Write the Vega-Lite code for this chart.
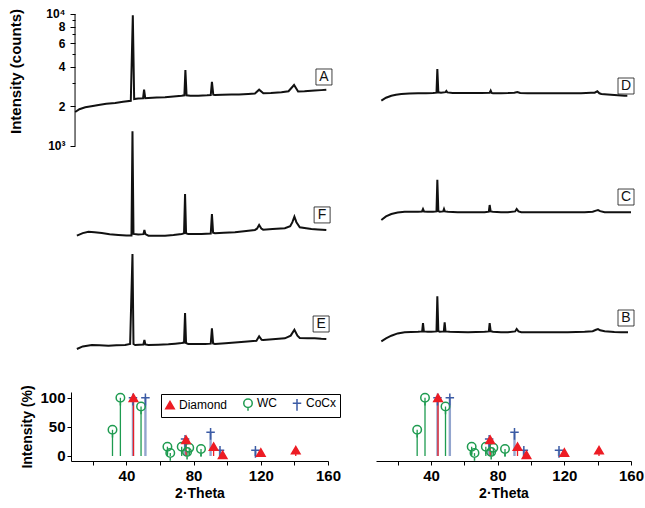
{
"$schema": "https://vega.github.io/schema/vega-lite/v6.json",
"padding": {"left": 8, "top": 7, "right": 5, "bottom": 5},
"bounds": "flush",
"columns": 2,
"spacing": {"row": 28, "column": 48},
"resolve": {"scale": {"stroke": "independent", "fill": "independent", "shape": "independent", "color": "independent"}, "legend": {"stroke": "independent", "fill": "independent", "shape": "independent", "color": "independent"}},
"config": {"font": "Liberation Sans", "view": {"stroke": null}, "axis": {"domainColor": "#000", "tickColor": "#000", "labelColor": "#000", "titleColor": "#000", "grid": false, "labelOverlap": false, "labelFlush": false}},
"datasets": {
"spectra": [
{"s":"A","t":9.5,"c":1810},{"s":"A","t":12,"c":1900},{"s":"A","t":15.5,"c":1963},{"s":"A","t":20,"c":2010},{"s":"A","t":23.4,"c":2047},{"s":"A","t":28,"c":2090},{"s":"A","t":33.3,"c":2118},{"s":"A","t":38,"c":2160},{"s":"A","t":42.6,"c":2200},{"s":"A","t":43.8,"c":9800},{"s":"A","t":44.6,"c":2270},{"s":"A","t":47,"c":2290},{"s":"A","t":49.9,"c":2300},{"s":"A","t":50.5,"c":2670},{"s":"A","t":51.2,"c":2300},{"s":"A","t":53,"c":2312},{"s":"A","t":58,"c":2330},{"s":"A","t":63,"c":2340},{"s":"A","t":68,"c":2370},{"s":"A","t":72.9,"c":2405},{"s":"A","t":74.5,"c":2420},{"s":"A","t":75.1,"c":3767},{"s":"A","t":75.8,"c":2420},{"s":"A","t":78,"c":2400},{"s":"A","t":82.8,"c":2405},{"s":"A","t":88,"c":2420},{"s":"A","t":90.2,"c":2430},{"s":"A","t":90.9,"c":3068},{"s":"A","t":91.7,"c":2450},{"s":"A","t":92.7,"c":2435},{"s":"A","t":97,"c":2440},{"s":"A","t":102.6,"c":2450},{"s":"A","t":107,"c":2460},{"s":"A","t":112.5,"c":2480},{"s":"A","t":116.5,"c":2500},{"s":"A","t":119,"c":2670},{"s":"A","t":121.5,"c":2510},{"s":"A","t":126,"c":2520},{"s":"A","t":132.3,"c":2550},{"s":"A","t":136.5,"c":2600},{"s":"A","t":139.8,"c":2897},{"s":"A","t":142.2,"c":2590},{"s":"A","t":146,"c":2600},{"s":"A","t":152.1,"c":2630},{"s":"A","t":156,"c":2650},{"s":"A","t":159,"c":2670},
{"s":"F","t":10.5,"c":2055},{"s":"F","t":14,"c":2150},{"s":"F","t":17.4,"c":2204},{"s":"F","t":21,"c":2180},{"s":"F","t":25.3,"c":2154},{"s":"F","t":30,"c":2110},{"s":"F","t":35.2,"c":2081},{"s":"F","t":40,"c":2060},{"s":"F","t":43,"c":2060},{"s":"F","t":43.6,"c":12700},{"s":"F","t":44.2,"c":2117},{"s":"F","t":47,"c":2100},{"s":"F","t":50.1,"c":2110},{"s":"F","t":50.7,"c":2270},{"s":"F","t":51.3,"c":2110},{"s":"F","t":53.1,"c":2055},{"s":"F","t":58,"c":2055},{"s":"F","t":63,"c":2055},{"s":"F","t":68,"c":2080},{"s":"F","t":72.9,"c":2117},{"s":"F","t":74.3,"c":2140},{"s":"F","t":74.9,"c":4255},{"s":"F","t":75.5,"c":2140},{"s":"F","t":76.8,"c":2117},{"s":"F","t":80,"c":2117},{"s":"F","t":84.7,"c":2117},{"s":"F","t":90.2,"c":2130},{"s":"F","t":90.9,"c":3001},{"s":"F","t":91.6,"c":2160},{"s":"F","t":92.7,"c":2143},{"s":"F","t":98,"c":2160},{"s":"F","t":104.6,"c":2181},{"s":"F","t":110,"c":2220},{"s":"F","t":116.5,"c":2270},{"s":"F","t":117.7,"c":2320},{"s":"F","t":119,"c":2477},{"s":"F","t":120.3,"c":2330},{"s":"F","t":121.4,"c":2282},{"s":"F","t":127,"c":2310},{"s":"F","t":134.3,"c":2339},{"s":"F","t":137.5,"c":2420},{"s":"F","t":138.8,"c":2600},{"s":"F","t":140,"c":2862},{"s":"F","t":141.2,"c":2600},{"s":"F","t":143.2,"c":2380},{"s":"F","t":147,"c":2340},{"s":"F","t":150.1,"c":2310},{"s":"F","t":154,"c":2290},{"s":"F","t":159,"c":2270},
{"s":"E","t":10.5,"c":1941},{"s":"E","t":14,"c":2030},{"s":"E","t":19.4,"c":2081},{"s":"E","t":24,"c":2070},{"s":"E","t":29.3,"c":2055},{"s":"E","t":34,"c":2070},{"s":"E","t":39.2,"c":2081},{"s":"E","t":42.2,"c":2117},{"s":"E","t":43.6,"c":10175},{"s":"E","t":44.2,"c":2117},{"s":"E","t":45.2,"c":2081},{"s":"E","t":50.1,"c":2100},{"s":"E","t":50.7,"c":2270},{"s":"E","t":51.3,"c":2100},{"s":"E","t":53.1,"c":2081},{"s":"E","t":59,"c":2090},{"s":"E","t":65,"c":2106},{"s":"E","t":69,"c":2130},{"s":"E","t":72.9,"c":2154},{"s":"E","t":74.3,"c":2170},{"s":"E","t":74.9,"c":3636},{"s":"E","t":75.5,"c":2150},{"s":"E","t":76.8,"c":2117},{"s":"E","t":81,"c":2117},{"s":"E","t":86.8,"c":2117},{"s":"E","t":90.2,"c":2130},{"s":"E","t":90.9,"c":2785},{"s":"E","t":91.6,"c":2140},{"s":"E","t":92.7,"c":2117},{"s":"E","t":99,"c":2150},{"s":"E","t":106.5,"c":2181},{"s":"E","t":112,"c":2210},{"s":"E","t":117.4,"c":2243},{"s":"E","t":119,"c":2421},{"s":"E","t":120.5,"c":2280},{"s":"E","t":121.4,"c":2270},{"s":"E","t":127,"c":2300},{"s":"E","t":134.3,"c":2339},{"s":"E","t":137.8,"c":2450},{"s":"E","t":140,"c":2718},{"s":"E","t":141.8,"c":2450},{"s":"E","t":143.2,"c":2350},{"s":"E","t":148,"c":2340},{"s":"E","t":152.1,"c":2339},{"s":"E","t":156,"c":2320},{"s":"E","t":159,"c":2310},
{"s":"D","t":10.2,"c":1757},{"s":"D","t":13,"c":1850},{"s":"D","t":16.2,"c":1917},{"s":"D","t":19,"c":1950},{"s":"D","t":22.2,"c":1975},{"s":"D","t":27,"c":1990},{"s":"D","t":32.2,"c":1999},{"s":"D","t":37,"c":2005},{"s":"D","t":41.2,"c":2009},{"s":"D","t":43.3,"c":2020},{"s":"D","t":43.8,"c":3054},{"s":"D","t":44.4,"c":2034},{"s":"D","t":46,"c":2020},{"s":"D","t":48.7,"c":2040},{"s":"D","t":49.2,"c":2081},{"s":"D","t":49.8,"c":2030},{"s":"D","t":53,"c":2010},{"s":"D","t":58.2,"c":2009},{"s":"D","t":64,"c":2009},{"s":"D","t":70.2,"c":2009},{"s":"D","t":75.2,"c":2020},{"s":"D","t":75.8,"c":2092},{"s":"D","t":76.4,"c":2010},{"s":"D","t":77.2,"c":1999},{"s":"D","t":82,"c":2005},{"s":"D","t":86.2,"c":2009},{"s":"D","t":90,"c":2020},{"s":"D","t":91.8,"c":2045},{"s":"D","t":93.5,"c":2010},{"s":"D","t":98,"c":2000},{"s":"D","t":102.2,"c":1999},{"s":"D","t":110,"c":1999},{"s":"D","t":116,"c":2000},{"s":"D","t":122.2,"c":1999},{"s":"D","t":130,"c":2005},{"s":"D","t":136,"c":2015},{"s":"D","t":138.2,"c":2020},{"s":"D","t":139.8,"c":2070},{"s":"D","t":141,"c":2000},{"s":"D","t":142.2,"c":1975},{"s":"D","t":146,"c":1960},{"s":"D","t":150,"c":1940},{"s":"D","t":156.2,"c":1917},{"s":"D","t":157.8,"c":1917},
{"s":"C","t":10.2,"c":1748},{"s":"C","t":13,"c":1860},{"s":"C","t":16.2,"c":1941},{"s":"C","t":20,"c":1990},{"s":"C","t":24.2,"c":2020},{"s":"C","t":28,"c":2020},{"s":"C","t":32.2,"c":2020},{"s":"C","t":34.6,"c":2030},{"s":"C","t":35.2,"c":2117},{"s":"C","t":35.8,"c":2030},{"s":"C","t":38,"c":2020},{"s":"C","t":41.2,"c":2020},{"s":"C","t":43.3,"c":2030},{"s":"C","t":43.8,"c":3530},{"s":"C","t":44.4,"c":2040},{"s":"C","t":45.2,"c":2020},{"s":"C","t":47.3,"c":2030},{"s":"C","t":47.8,"c":2117},{"s":"C","t":48.3,"c":2030},{"s":"C","t":50.2,"c":2020},{"s":"C","t":56,"c":2005},{"s":"C","t":62.2,"c":1999},{"s":"C","t":67,"c":1999},{"s":"C","t":72.2,"c":1999},{"s":"C","t":74.7,"c":2020},{"s":"C","t":75.2,"c":2270},{"s":"C","t":75.8,"c":2030},{"s":"C","t":77.2,"c":2020},{"s":"C","t":82,"c":2005},{"s":"C","t":86.2,"c":1999},{"s":"C","t":90.5,"c":2030},{"s":"C","t":91.4,"c":2117},{"s":"C","t":92.5,"c":2030},{"s":"C","t":94.2,"c":1999},{"s":"C","t":103,"c":1999},{"s":"C","t":112.2,"c":1999},{"s":"C","t":122,"c":1999},{"s":"C","t":132.2,"c":1999},{"s":"C","t":137,"c":2020},{"s":"C","t":139,"c":2060},{"s":"C","t":140.2,"c":2081},{"s":"C","t":141.5,"c":2040},{"s":"C","t":144.2,"c":1999},{"s":"C","t":150,"c":1999},{"s":"C","t":155,"c":1999},{"s":"C","t":160,"c":1999},
{"s":"B","t":10.2,"c":1709},{"s":"B","t":13,"c":1800},{"s":"B","t":16.2,"c":1884},{"s":"B","t":20,"c":1960},{"s":"B","t":24.2,"c":1999},{"s":"B","t":28,"c":2010},{"s":"B","t":32.2,"c":2020},{"s":"B","t":34.7,"c":2030},{"s":"B","t":35.2,"c":2350},{"s":"B","t":35.7,"c":2030},{"s":"B","t":38,"c":2020},{"s":"B","t":40.2,"c":2020},{"s":"B","t":43.3,"c":2030},{"s":"B","t":43.8,"c":3746},{"s":"B","t":44.4,"c":2040},{"s":"B","t":45.2,"c":2020},{"s":"B","t":47.7,"c":2030},{"s":"B","t":48.2,"c":2380},{"s":"B","t":48.7,"c":2030},{"s":"B","t":51.2,"c":2020},{"s":"B","t":56,"c":2010},{"s":"B","t":62.2,"c":1999},{"s":"B","t":67,"c":2010},{"s":"B","t":72.2,"c":2020},{"s":"B","t":74.7,"c":2030},{"s":"B","t":75.2,"c":2350},{"s":"B","t":75.8,"c":2040},{"s":"B","t":77.2,"c":2020},{"s":"B","t":82,"c":2005},{"s":"B","t":86.2,"c":1999},{"s":"B","t":90.5,"c":2030},{"s":"B","t":91.4,"c":2117},{"s":"B","t":92.5,"c":2030},{"s":"B","t":94.2,"c":1999},{"s":"B","t":103,"c":1999},{"s":"B","t":112.2,"c":1999},{"s":"B","t":122,"c":2005},{"s":"B","t":132.2,"c":2020},{"s":"B","t":137,"c":2040},{"s":"B","t":139,"c":2090},{"s":"B","t":140.2,"c":2117},{"s":"B","t":141.5,"c":2070},{"s":"B","t":144.2,"c":2034},{"s":"B","t":150,"c":2010},{"s":"B","t":154,"c":2000},{"s":"B","t":158.2,"c":1999}
],
"labels": [
{"s":"A","t":157.6,"c":3332},{"s":"F","t":156.5,"c":2950},{"s":"E","t":155.9,"c":3002},{"s":"D","t":157,"c":2270},{"s":"C","t":157,"c":2610},{"s":"B","t":157,"c":2565}
],
"sticks": [
{"phase":"WC","t":31.7,"i":45},{"phase":"WC","t":36.4,"i":100},{"phase":"WC","t":48.7,"i":85},{"phase":"WC","t":64.4,"i":16},{"phase":"WC","t":66.1,"i":5},{"phase":"WC","t":72.9,"i":16},{"phase":"WC","t":76.1,"i":7},{"phase":"WC","t":77.4,"i":14},{"phase":"WC","t":84.4,"i":12},
{"phase":"CoCx","t":43.9,"i":100},{"phase":"CoCx","t":51.3,"i":100},{"phase":"CoCx","t":74.9,"i":29},{"phase":"CoCx","t":90.1,"i":41},{"phase":"CoCx","t":95.7,"i":10},{"phase":"CoCx","t":116.8,"i":10},
{"phase":"Diamond","t":44.2,"i":100},{"phase":"Diamond","t":75.5,"i":28},{"phase":"Diamond","t":91.9,"i":16},{"phase":"Diamond","t":97.3,"i":2},{"phase":"Diamond","t":120,"i":6},{"phase":"Diamond","t":140.8,"i":10}
]
},
"concat": [
{
"width": 257, "height": 355,
"resolve": {"scale": {"y": "independent"}, "axis": {"y": "independent"}},
"layer": [
{"layer": [
{"data": {"name": "spectra"}, "transform": [{"filter": "datum.s === 'A'"}], "mark": {"type": "line", "color": "#111", "strokeWidth": 2},
 "encoding": {"x": {"field": "t", "type": "quantitative", "scale": {"domain": [7, 160], "nice": false}, "axis": null},
  "y": {"field": "c", "type": "quantitative", "scale": {"type": "log", "domain": [22.3, 10911], "nice": false},
   "axis": {"values": [1000,2000,3000,4000,5000,6000,7000,8000,9000,10000], "tickCount": 30, "labelOverlap": false, "domain": false, "offset": -4,
    "labelExpr": "datum.value === 1000 ? '10³' : datum.value === 10000 ? '10⁴' : (datum.value === 2000 || datum.value === 4000 || datum.value === 6000 || datum.value === 8000) ? '' + (datum.value / 1000) : ''",
    "tickSize": {"condition": {"test": "datum.value === 1000 || datum.value === 2000 || datum.value === 4000 || datum.value === 6000 || datum.value === 8000 || datum.value === 10000", "value": 5}, "value": 3},
    "labelFontSize": 12, "labelFontWeight": "bold", "labelPadding": 5,
    "title": "Intensity (counts)", "titleFontSize": 15, "titleFontWeight": "bold", "titleY": 62, "titlePadding": 22}}}},
{"data": {"name": "labels"}, "transform": [{"filter": "datum.s === 'A'"}], "mark": {"type": "point", "shape": "square", "size": 256, "filled": false, "stroke": "#111", "strokeWidth": 0.8, "opacity": 1},
 "encoding": {"x": {"field": "t", "type": "quantitative", "axis": null}, "y": {"field": "c", "type": "quantitative"}}},
{"data": {"name": "labels"}, "transform": [{"filter": "datum.s === 'A'"}], "mark": {"type": "text", "fontSize": 14, "color": "#111", "baseline": "middle"},
 "encoding": {"x": {"field": "t", "type": "quantitative", "axis": null}, "y": {"field": "c", "type": "quantitative"}, "text": {"field": "s"}}},
{"data": {"values": [{}]}, "mark": {"type": "rule", "color": "#000", "strokeWidth": 1},
 "encoding": {"x": {"datum": 9.4, "type": "quantitative", "axis": null}, "y": {"datum": 1000, "type": "quantitative"}, "y2": {"datum": 10000}}}
]},
{"layer": [
{"data": {"name": "spectra"}, "transform": [{"filter": "datum.s === 'F'"}], "mark": {"type": "line", "color": "#111", "strokeWidth": 2},
 "encoding": {"x": {"field": "t", "type": "quantitative", "axis": null}, "y": {"field": "c", "type": "quantitative", "scale": {"type": "log", "domain": [219, 107230], "nice": false}, "axis": null}}},
{"data": {"name": "labels"}, "transform": [{"filter": "datum.s === 'F'"}], "mark": {"type": "point", "shape": "square", "size": 256, "filled": false, "stroke": "#111", "strokeWidth": 0.8, "opacity": 1},
 "encoding": {"x": {"field": "t", "type": "quantitative", "axis": null}, "y": {"field": "c", "type": "quantitative", "axis": null}}},
{"data": {"name": "labels"}, "transform": [{"filter": "datum.s === 'F'"}], "mark": {"type": "text", "fontSize": 14, "color": "#111", "baseline": "middle"},
 "encoding": {"x": {"field": "t", "type": "quantitative", "axis": null}, "y": {"field": "c", "type": "quantitative", "axis": null}, "text": {"field": "s"}}}
]},
{"layer": [
{"data": {"name": "spectra"}, "transform": [{"filter": "datum.s === 'E'"}], "mark": {"type": "line", "color": "#111", "strokeWidth": 2},
 "encoding": {"x": {"field": "t", "type": "quantitative", "axis": null}, "y": {"field": "c", "type": "quantitative", "scale": {"type": "log", "domain": [1494, 730300], "nice": false}, "axis": null}}},
{"data": {"name": "labels"}, "transform": [{"filter": "datum.s === 'E'"}], "mark": {"type": "point", "shape": "square", "size": 256, "filled": false, "stroke": "#111", "strokeWidth": 0.8, "opacity": 1},
 "encoding": {"x": {"field": "t", "type": "quantitative", "axis": null}, "y": {"field": "c", "type": "quantitative", "axis": null}}},
{"data": {"name": "labels"}, "transform": [{"filter": "datum.s === 'E'"}], "mark": {"type": "text", "fontSize": 14, "color": "#111", "baseline": "middle"},
 "encoding": {"x": {"field": "t", "type": "quantitative", "axis": null}, "y": {"field": "c", "type": "quantitative", "axis": null}, "text": {"field": "s"}}}
]}
]
},
{
"width": 255, "height": 355,
"resolve": {"scale": {"y": "independent"}, "axis": {"y": "independent"}},
"layer": [
{"layer": [
{"data": {"name": "spectra"}, "transform": [{"filter": "datum.s === 'D'"}], "mark": {"type": "line", "color": "#111", "strokeWidth": 2},
 "encoding": {"x": {"field": "t", "type": "quantitative", "scale": {"domain": [7, 160], "nice": false}, "axis": null}, "y": {"field": "c", "type": "quantitative", "scale": {"type": "log", "domain": [17.8, 8697], "nice": false}, "axis": null}}},
{"data": {"name": "labels"}, "transform": [{"filter": "datum.s === 'D'"}], "mark": {"type": "point", "shape": "square", "size": 256, "filled": false, "stroke": "#111", "strokeWidth": 0.8, "opacity": 1},
 "encoding": {"x": {"field": "t", "type": "quantitative", "axis": null}, "y": {"field": "c", "type": "quantitative", "axis": null}}},
{"data": {"name": "labels"}, "transform": [{"filter": "datum.s === 'D'"}], "mark": {"type": "text", "fontSize": 14, "color": "#111", "baseline": "middle"},
 "encoding": {"x": {"field": "t", "type": "quantitative", "axis": null}, "y": {"field": "c", "type": "quantitative", "axis": null}, "text": {"field": "s"}}}
]},
{"layer": [
{"data": {"name": "spectra"}, "transform": [{"filter": "datum.s === 'C'"}], "mark": {"type": "line", "color": "#111", "strokeWidth": 2},
 "encoding": {"x": {"field": "t", "type": "quantitative", "axis": null}, "y": {"field": "c", "type": "quantitative", "scale": {"type": "log", "domain": [141.8, 69340], "nice": false}, "axis": null}}},
{"data": {"name": "labels"}, "transform": [{"filter": "datum.s === 'C'"}], "mark": {"type": "point", "shape": "square", "size": 256, "filled": false, "stroke": "#111", "strokeWidth": 0.8, "opacity": 1},
 "encoding": {"x": {"field": "t", "type": "quantitative", "axis": null}, "y": {"field": "c", "type": "quantitative", "axis": null}}},
{"data": {"name": "labels"}, "transform": [{"filter": "datum.s === 'C'"}], "mark": {"type": "text", "fontSize": 14, "color": "#111", "baseline": "middle"},
 "encoding": {"x": {"field": "t", "type": "quantitative", "axis": null}, "y": {"field": "c", "type": "quantitative", "axis": null}, "text": {"field": "s"}}}
]},
{"layer": [
{"data": {"name": "spectra"}, "transform": [{"filter": "datum.s === 'B'"}], "mark": {"type": "line", "color": "#111", "strokeWidth": 2},
 "encoding": {"x": {"field": "t", "type": "quantitative", "axis": null}, "y": {"field": "c", "type": "quantitative", "scale": {"type": "log", "domain": [1150, 562340], "nice": false}, "axis": null}}},
{"data": {"name": "labels"}, "transform": [{"filter": "datum.s === 'B'"}], "mark": {"type": "point", "shape": "square", "size": 256, "filled": false, "stroke": "#111", "strokeWidth": 0.8, "opacity": 1},
 "encoding": {"x": {"field": "t", "type": "quantitative", "axis": null}, "y": {"field": "c", "type": "quantitative", "axis": null}}},
{"data": {"name": "labels"}, "transform": [{"filter": "datum.s === 'B'"}], "mark": {"type": "text", "fontSize": 14, "color": "#111", "baseline": "middle"},
 "encoding": {"x": {"field": "t", "type": "quantitative", "axis": null}, "y": {"field": "c", "type": "quantitative", "axis": null}, "text": {"field": "s"}}}
]}
]
},
{
"width": 257, "height": 69,
"data": {"name": "sticks"},
"layer": [
{"mark": {"type": "rule"},
 "encoding": {
  "x": {"field": "t", "type": "quantitative", "scale": {"domain": [7, 160], "nice": false},
   "axis": {"values": [20,40,60,80,100,120,140,160], "tickCount": 30, "labelOverlap": false, "labelFlush": false, "labelExpr": "datum.value % 40 === 0 ? datum.label : ''", "tickSize": 4, "labelFontSize": 15, "labelFontWeight": "bold", "labelPadding": 3, "title": "2·Theta", "titleFontSize": 14, "titleFontWeight": "bold", "titlePadding": 3}},
  "y": {"field": "i", "type": "quantitative", "scale": {"domain": [-8.6, 110], "nice": false, "zero": false},
   "axis": {"values": [0, 50, 100], "tickCount": 30, "labelOverlap": false, "labelFlush": false, "tickSize": 4, "labelFontSize": 15, "labelFontWeight": "bold", "labelPadding": 2, "title": "Intensity (%)", "titleFontSize": 14, "titleFontWeight": "bold", "titlePadding": 5}},
  "y2": {"datum": 0},
  "stroke": {"field": "phase", "type": "nominal", "scale": {"domain": ["Diamond", "WC", "CoCx"], "range": ["#ed1c24", "#1e9b50", "#3b5ba5"]}},
  "opacity": {"condition": {"test": "datum.phase === 'CoCx'", "value": 0.55}, "value": 1},
  "strokeWidth": {"condition": {"test": "datum.phase === 'CoCx'", "value": 2.4}, "value": 1.3}
 }},
{"mark": {"type": "point", "filled": false, "strokeWidth": 1.5, "opacity": 1, "size": 72},
 "encoding": {
  "x": {"field": "t", "type": "quantitative"},
  "y": {"field": "i", "type": "quantitative"},
  "stroke": {"field": "phase", "type": "nominal", "scale": {"domain": ["Diamond", "WC", "CoCx"], "range": ["#ed1c24", "#1e9b50", "#3b5ba5"]},
   "legend": {"title": null, "orient": "none", "legendX": 90, "legendY": 2, "direction": "horizontal", "strokeColor": "#000", "padding": 3, "labelFontSize": 12, "labelFont": "Liberation Sans", "labelColor": "#000", "columnPadding": 12, "labelOffset": 3, "symbolStrokeWidth": 1.5, "symbolSize": 72}},
  "fill": {"field": "phase", "type": "nominal", "scale": {"domain": ["Diamond", "WC", "CoCx"], "range": ["#ed1c24", "transparent", "transparent"]},
   "legend": {"title": null, "orient": "none", "legendX": 90, "legendY": 2, "direction": "horizontal", "strokeColor": "#000", "padding": 3, "labelFontSize": 12, "labelFont": "Liberation Sans", "labelColor": "#000", "columnPadding": 12, "labelOffset": 3, "symbolStrokeWidth": 1.5, "symbolSize": 72}},
  "shape": {"field": "phase", "type": "nominal", "scale": {"domain": ["Diamond", "WC", "CoCx"], "range": ["triangle-up", "M-1,0A1,1 0 1,1 1,0A1,1 0 1,1 -1,0M0,1L0,1.8", "M-1,0L1,0M0,-1L0,1.8"]},
   "legend": {"title": null, "orient": "none", "legendX": 90, "legendY": 2, "direction": "horizontal", "strokeColor": "#000", "padding": 3, "labelFontSize": 12, "labelFont": "Liberation Sans", "labelColor": "#000", "columnPadding": 12, "labelOffset": 3, "symbolStrokeWidth": 1.5, "symbolSize": 72}}
 }}
]
},
{
"width": 255, "height": 69,
"data": {"name": "sticks"},
"layer": [
{"mark": {"type": "rule"},
 "encoding": {
  "x": {"field": "t", "type": "quantitative", "scale": {"domain": [7, 160], "nice": false},
   "axis": {"values": [20,40,60,80,100,120,140,160], "tickCount": 30, "labelOverlap": false, "labelFlush": false, "labelExpr": "datum.value % 40 === 0 ? datum.label : ''", "tickSize": 4, "labelFontSize": 15, "labelFontWeight": "bold", "labelPadding": 3, "title": "2·Theta", "titleFontSize": 14, "titleFontWeight": "bold", "titlePadding": 3}},
  "y": {"field": "i", "type": "quantitative", "scale": {"domain": [-8.6, 110], "nice": false, "zero": false}, "axis": null},
  "y2": {"datum": 0},
  "stroke": {"field": "phase", "type": "nominal", "scale": {"domain": ["Diamond", "WC", "CoCx"], "range": ["#ed1c24", "#1e9b50", "#3b5ba5"]}, "legend": null},
  "opacity": {"condition": {"test": "datum.phase === 'CoCx'", "value": 0.55}, "value": 1},
  "strokeWidth": {"condition": {"test": "datum.phase === 'CoCx'", "value": 2.4}, "value": 1.3}
 }},
{"mark": {"type": "point", "filled": false, "strokeWidth": 1.5, "opacity": 1, "size": 72},
 "encoding": {
  "x": {"field": "t", "type": "quantitative"},
  "y": {"field": "i", "type": "quantitative", "axis": null},
  "stroke": {"field": "phase", "type": "nominal", "scale": {"domain": ["Diamond", "WC", "CoCx"], "range": ["#ed1c24", "#1e9b50", "#3b5ba5"]}, "legend": null},
  "fill": {"field": "phase", "type": "nominal", "scale": {"domain": ["Diamond", "WC", "CoCx"], "range": ["#ed1c24", "transparent", "transparent"]}, "legend": null},
  "shape": {"field": "phase", "type": "nominal", "scale": {"domain": ["Diamond", "WC", "CoCx"], "range": ["triangle-up", "M-1,0A1,1 0 1,1 1,0A1,1 0 1,1 -1,0M0,1L0,1.8", "M-1,0L1,0M0,-1L0,1.8"]}, "legend": null}
 }}
]
}
]
}
